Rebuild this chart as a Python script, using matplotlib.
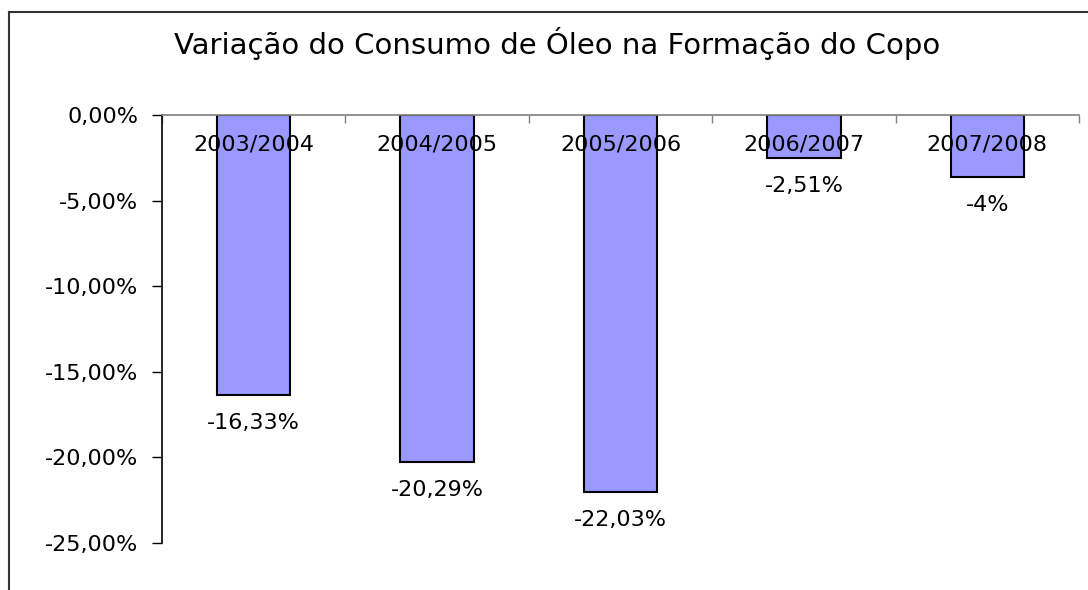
import numpy as np
import matplotlib.pyplot as plt
from matplotlib.ticker import FixedLocator

periodos = ["2003/2004", "2004/2005", "2005/2006", "2006/2007", "2007/2008"]
variacao = [-16.33, -20.29, -22.03, -2.51, -3.63]
rotulos = ["-16,33%", "-20,29%", "-22,03%", "-2,51%", "-4%"]
yticks = [0, -5, -10, -15, -20, -25]
ytick_labels = ["0,00%", "-5,00%", "-10,00%", "-15,00%", "-20,00%", "-25,00%"]

bar_color = "#9999ff"
label_fontsize = 16

fig = plt.figure(figsize=(10.88, 5.90), dpi=100)
ax = fig.add_axes([162 / 1088, 47 / 590, 917 / 1088, 428 / 590])

x = np.arange(len(periodos))
ax.bar(x, variacao, width=0.40, color=bar_color, edgecolor="black", linewidth=1.5, zorder=2)

ax.set_xlim(-0.5, len(periodos) - 0.5)
ax.set_ylim(-25, 0)

# spines: only the left one and the zero line on top
for s in ["right", "bottom"]:
    ax.spines[s].set_visible(False)
ax.spines["left"].set_color("black")
ax.spines["left"].set_linewidth(1.2)
ax.spines["top"].set_color("#808080")
ax.spines["top"].set_linewidth(1.2)

ax.yaxis.set_major_locator(FixedLocator(yticks))
ax.set_yticklabels(ytick_labels, fontsize=label_fontsize)
ax.tick_params(axis="y", direction="out", length=7, width=1, pad=10)

ax.xaxis.tick_top()
ax.xaxis.set_major_locator(FixedLocator(np.arange(len(periodos) + 1) - 0.5))
ax.set_xticklabels([])
ax.tick_params(axis="x", direction="in", length=6, width=1, color="#808080")

for i, p in enumerate(periodos):
    ax.annotate(p, xy=(i, 0), xytext=(0, -30), textcoords="offset pixels",
                ha="center", va="center", fontsize=label_fontsize, zorder=3)

for i, (v, r) in enumerate(zip(variacao, rotulos)):
    ax.annotate(r, xy=(i, v), xytext=(0, -28), textcoords="offset pixels",
                ha="center", va="center", fontsize=label_fontsize)

fig.text((171 + 943) / 2 / 1088, 1 - 44 / 590,
         "Variação do Consumo de Óleo na Formação do Copo",
         ha="center", va="center", fontsize=21)

# chart border (left and top visible, rest cut off)
fig.add_artist(plt.Line2D([9 / 1088, 9 / 1088], [0, 1 - 12 / 590], color="#333333", linewidth=1.5))
fig.add_artist(plt.Line2D([9 / 1088, 1], [1 - 12 / 590, 1 - 12 / 590], color="#333333", linewidth=1.5))

plt.savefig("out.png", dpi=100)
